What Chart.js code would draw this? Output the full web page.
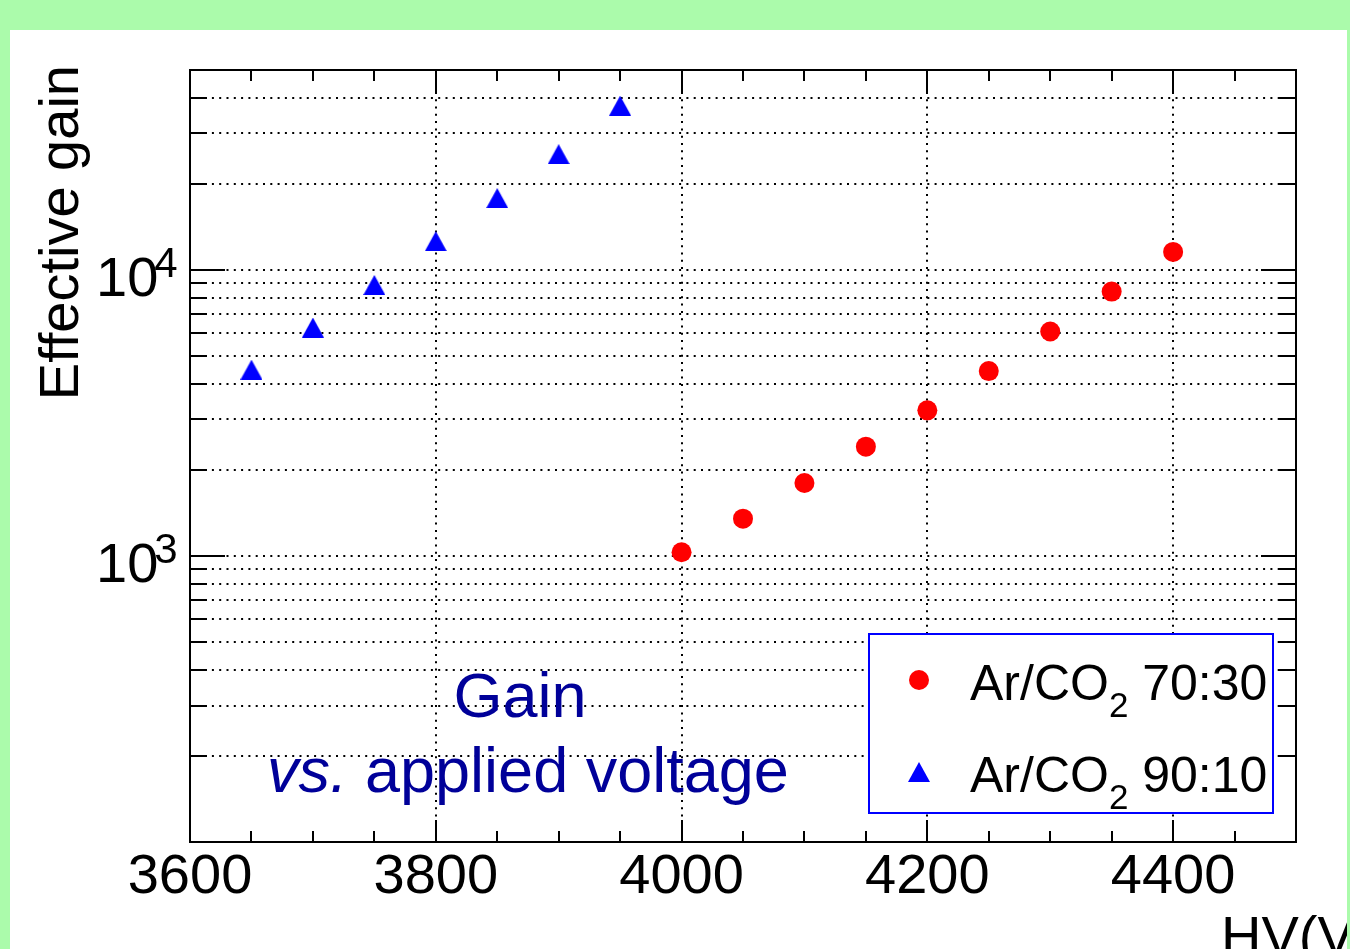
<!DOCTYPE html>
<html>
<head>
<meta charset="utf-8">
<script src="https://cdn.jsdelivr.net/npm/chart.js@4.4.1/dist/chart.umd.min.js"></script>
<style>
  html, body { margin: 0; padding: 0; background: #abfbab; }
  #wrap { position: absolute; left: 0; top: 0; width: 1350px; height: 949px; }
</style>
</head>
<body>
<div id="wrap"><canvas id="gainChart"></canvas></div>
<script>
// gain vs HV
const hv7030 = [4000, 4050, 4100, 4150, 4200, 4250, 4300, 4350, 4400];
const gain7030 = [1030, 1350, 1800, 2410, 3230, 4430, 6090, 8400, 11560];
const hv9010 = [3650, 3700, 3750, 3800, 3850, 3900, 3950];
const gain9010 = [4480, 6290, 8860, 12600, 17830, 25390, 37530];

const seriesNames = ['Ar/CO\u2082 70:30', 'Ar/CO\u2082 90:10'];

// axis ticks
const xLabelTicks = [3600, 3800, 4000, 4200, 4400];
const xMinorTicks = [3650, 3700, 3750, 3850, 3900, 3950, 4050, 4100, 4150, 4250, 4300, 4350, 4450];
const yGridTicks = [100, 200, 300, 400, 500, 600, 700, 800, 900,
                    1000, 2000, 3000, 4000, 5000, 6000, 7000, 8000, 9000,
                    10000, 20000, 30000, 40000, 50000];
const yLabelTicks = [1000, 10000];

const FONT = '"Liberation Sans", Arial, sans-serif';
const NAVY = '#000099';

function makeTriangle(w, h, color) {
    const c = document.createElement('canvas');
    c.width = w;
    c.height = h;
    const g = c.getContext('2d');
    g.fillStyle = color;
    g.beginPath();
    g.moveTo(w / 2, 0);
    g.lineTo(w, h);
    g.lineTo(0, h);
    g.closePath();
    g.fill();
    return c;
}
const blueTriangle = makeTriangle(22, 20, '#0000ff');

// text with a subscript part: [normal, sub, normal]
function drawChem(ctx, x, y, a, sub, b, size) {
    ctx.font = `${size}px ${FONT}`;
    ctx.fillText(a, x, y);
    x += ctx.measureText(a).width;
    const subSize = Math.round(size * 0.7);
    ctx.font = `${subSize}px ${FONT}`;
    ctx.fillText(sub, x, y + 17);
    x += ctx.measureText(sub).width;
    ctx.font = `${size}px ${FONT}`;
    ctx.fillText(b, x, y);
}

const panelPlugin = {
    id: 'panel',
    beforeDraw(chart) {
        const ctx = chart.ctx;
        ctx.save();
        ctx.fillStyle = '#abfbab';
        ctx.fillRect(0, 0, chart.width, chart.height);
        ctx.fillStyle = '#ffffff';
        ctx.fillRect(10, 30, 1337, chart.height - 30);
        ctx.restore();
    },
    afterDraw(chart) {
        const ctx = chart.ctx;
        const area = chart.chartArea;
        const xs = chart.scales.x;
        const ys = chart.scales.y;
        ctx.save();

        // ticks, inside the frame on all four sides
        ctx.strokeStyle = '#000';
        ctx.lineWidth = 2;
        ctx.beginPath();
        xLabelTicks.forEach(v => {
            const px = Math.round(xs.getPixelForValue(v));
            ctx.moveTo(px, area.bottom); ctx.lineTo(px, area.bottom - 22);
            ctx.moveTo(px, area.top); ctx.lineTo(px, area.top + 22);
        });
        xMinorTicks.forEach(v => {
            const px = Math.round(xs.getPixelForValue(v));
            ctx.moveTo(px, area.bottom); ctx.lineTo(px, area.bottom - 11);
            ctx.moveTo(px, area.top); ctx.lineTo(px, area.top + 11);
        });
        yGridTicks.forEach(v => {
            const py = Math.round(ys.getPixelForValue(v));
            const len = yLabelTicks.includes(v) ? 35 : 17;
            ctx.moveTo(area.left, py); ctx.lineTo(area.left + len, py);
            ctx.moveTo(area.right, py); ctx.lineTo(area.right - len, py);
        });
        ctx.stroke();

        // frame
        ctx.strokeRect(area.left, area.top, area.right - area.left, area.bottom - area.top);

        // y labels 10^n
        ctx.fillStyle = '#000';
        ctx.textAlign = 'left';
        ctx.textBaseline = 'alphabetic';
        yLabelTicks.forEach(v => {
            const py = ys.getPixelForValue(v);
            const base = py + 26.5;
            ctx.font = `56px ${FONT}`;
            ctx.fillText('10', 96, base);
            const w = ctx.measureText('10').width;
            ctx.font = `42px ${FONT}`;
            ctx.fillText(String(Math.round(Math.log10(v))), 96 + w - 4, base - 19);
        });

        // axis titles
        ctx.save();
        ctx.translate(78, 65);
        ctx.rotate(-Math.PI / 2);
        ctx.font = `56px ${FONT}`;
        ctx.textAlign = 'right';
        ctx.fillText('Effective gain', 0, 0);
        ctx.restore();

        ctx.save();
        ctx.beginPath();
        ctx.rect(10, 30, 1337, chart.height - 30);
        ctx.clip();
        ctx.font = `56px ${FONT}`;
        ctx.textAlign = 'left';
        ctx.fillText('HV(V)', 1221, 955);
        ctx.restore();

        // annotation
        ctx.fillStyle = NAVY;
        ctx.font = `63px ${FONT}`;
        ctx.textAlign = 'center';
        ctx.fillText('Gain', 520, 717);
        ctx.textAlign = 'left';
        ctx.font = `italic 63px ${FONT}`;
        let x = 267;
        ctx.fillText('vs.', x, 792);
        x += ctx.measureText('vs.').width;
        ctx.font = `63px ${FONT}`;
        ctx.fillText(' applied voltage', x, 792);

        // legend
        ctx.fillStyle = '#ffffff';
        ctx.fillRect(869, 634, 404, 179);
        ctx.strokeStyle = '#0000ff';
        ctx.lineWidth = 2;
        ctx.strokeRect(869, 634, 404, 179);

        ctx.fillStyle = '#ff0000';
        ctx.beginPath();
        ctx.arc(919, 680, 10, 0, Math.PI * 2);
        ctx.fill();
        ctx.drawImage(blueTriangle, 919 - 11, 772 - 10);

        ctx.fillStyle = '#000';
        drawChem(ctx, 970, 700, 'Ar/CO', '2', ' 70:30', 50);
        drawChem(ctx, 970, 792, 'Ar/CO', '2', ' 90:10', 50);

        ctx.restore();
    }
};

new Chart(document.getElementById('gainChart'), {
    type: 'scatter',
    data: {
        datasets: [
            {
                label: seriesNames[0],
                data: hv7030.map((v, i) => ({ x: v, y: gain7030[i] })),
                pointStyle: 'circle',
                pointRadius: 10,
                pointHoverRadius: 10,
                pointBackgroundColor: '#ff0000',
                pointBorderWidth: 0,
                borderWidth: 0
            },
            {
                label: seriesNames[1],
                data: hv9010.map((v, i) => ({ x: v, y: gain9010[i] })),
                pointStyle: blueTriangle,
                pointRadius: 11,
                pointBackgroundColor: '#0000ff',
                pointBorderWidth: 0,
                borderWidth: 0
            }
        ]
    },
    options: {
        responsive: true,
        maintainAspectRatio: false,
        animation: false,
        events: [],
        layout: { padding: { left: 0, top: 70, right: 54, bottom: 0 } },
        plugins: {
            legend: { display: false },
            tooltip: { enabled: false }
        },
        scales: {
            x: {
                type: 'linear',
                min: 3600,
                max: 4500,
                afterBuildTicks: (scale) => {
                    scale.ticks = xLabelTicks.map(v => ({ value: v }));
                },
                afterFit: (scale) => { scale.height = 107; },
                ticks: {
                    autoSkip: false,
                    maxRotation: 0,
                    padding: 2,
                    color: '#000',
                    font: { family: FONT, size: 56, lineHeight: 1.2 },
                    callback: (v) => String(v)
                },
                grid: {
                    color: '#000',
                    lineWidth: 2,
                    drawTicks: false
                },
                border: { display: false, dash: [2, 5.3] }
            },
            y: {
                type: 'logarithmic',
                min: 100,
                max: 50000,
                afterBuildTicks: (scale) => {
                    scale.ticks = yGridTicks.map(v => ({ value: v }));
                },
                afterFit: (scale) => { scale.width = 190; },
                ticks: { display: false, autoSkip: false },
                grid: {
                    color: '#000',
                    lineWidth: 2,
                    drawTicks: false
                },
                border: { display: false, dash: [2, 5.3] }
            }
        }
    },
    plugins: [panelPlugin]
});
</script>
</body>
</html>
